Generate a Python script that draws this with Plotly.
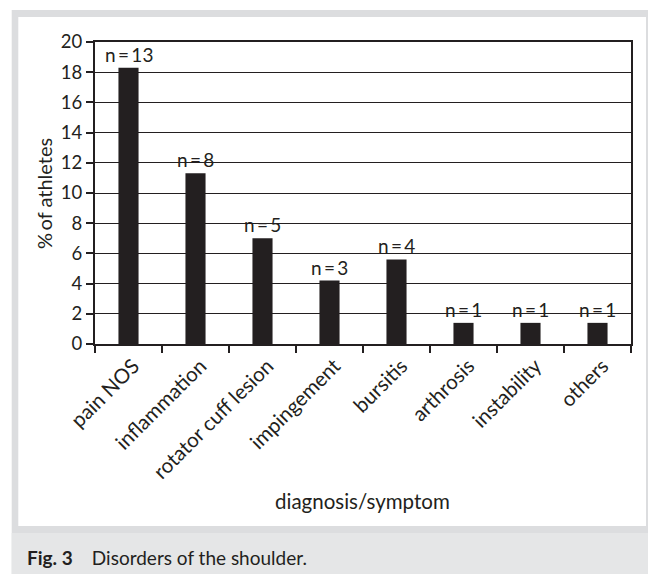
import plotly.graph_objects as go

categories = ["pain NOS", "inflammation", "rotator cuff lesion", "impingement",
              "bursitis", "arthrosis", "instability", "others"]
percent = [18.3, 11.3, 7.0, 4.2, 5.6, 1.4, 1.4, 1.4]
counts = [13, 8, 5, 3, 4, 1, 1, 1]
y_ticks = [0, 2, 4, 6, 8, 10, 12, 14, 16, 18, 20]

W, H = 648, 574
L, R, T, B = 95, 17, 42, 230
PW, PH = W - L - R, H - T - B
FONT = "Lato, Open Sans, sans-serif"
INK = "#231f20"

def px(x):
    return (x - L) / PW

def py(y):
    return (H - B - y) / PH

fig = go.Figure()
fig.add_trace(go.Bar(x=categories, y=percent, width=0.3, hoverinfo="skip",
                     marker=dict(color=INK, line=dict(width=0))))

for c, v, n in zip(categories, percent, counts):
    fig.add_annotation(x=c, y=v, text=f"n\u2009=\u2009{n}", showarrow=False,
                       yanchor="bottom", yshift=0,
                       font=dict(family=FONT, size=19, color=INK))

shapes = [
    dict(type="rect", xref="paper", yref="paper", x0=px(11.7), x1=px(648), y0=py(574), y1=py(10),
         fillcolor="#dcdddf", line=dict(width=0), layer="below"),
    dict(type="rect", xref="paper", yref="paper", x0=px(11.7), x1=px(648), y0=py(574), y1=py(533),
         fillcolor="#e5e6e7", line=dict(width=0), layer="below"),
    dict(type="rect", xref="paper", yref="paper", x0=px(18.3), x1=px(646), y0=py(526), y1=py(17),
         fillcolor="white", line=dict(width=0), layer="below"),
]
fig.update_layout(shapes=shapes)

fig.add_annotation(xref="paper", yref="paper", x=px(44), y=py(194), text="%\u2009of athletes",
                   textangle=-90, showarrow=False, xanchor="center", yanchor="middle",
                   font=dict(family=FONT, size=20, color=INK))
fig.add_annotation(xref="paper", yref="paper", x=px(362), y=py(501), text="diagnosis/symptom",
                   showarrow=False, xanchor="center", yanchor="middle",
                   font=dict(family=FONT, size=20.5, color=INK))
fig.add_annotation(xref="paper", yref="paper", x=px(25), y=py(557),
                   text="<b>Fig. 3</b>\u2003 Disorders of the shoulder.",
                   showarrow=False, xanchor="left", yanchor="middle",
                   font=dict(family=FONT, size=19, color=INK))

fig.update_layout(
    width=W, height=H, autosize=False,
    margin=dict(l=L, r=R, t=T, b=B, pad=0),
    paper_bgcolor="white", plot_bgcolor="white",
    showlegend=False, bargap=0.7, hovermode=False,
    font=dict(family=FONT, color=INK),
)
fig.update_xaxes(range=[-0.5, 7.5], tickson="boundaries", ticks="outside", ticklen=7,
                 tickwidth=1.8, tickcolor=INK, showline=True, linecolor=INK, linewidth=2,
                 mirror=True, tickangle=-45, tickfont=dict(family=FONT, size=20.5, color=INK),
                 ticklabelshift=5, ticklabelstandoff=0, showgrid=False)
fig.update_yaxes(range=[0, 20], tickvals=y_ticks, ticks="outside", ticklen=7, tickwidth=1.8,
                 tickcolor=INK, showline=True, linecolor=INK, linewidth=2, mirror=True,
                 showgrid=True, gridcolor=INK, gridwidth=1.4, zeroline=False,
                 tickfont=dict(family=FONT, size=18.5, color=INK))

fig.write_html("out.html", config={"displayModeBar": False},
               post_script="document.body.style.margin='0';")
